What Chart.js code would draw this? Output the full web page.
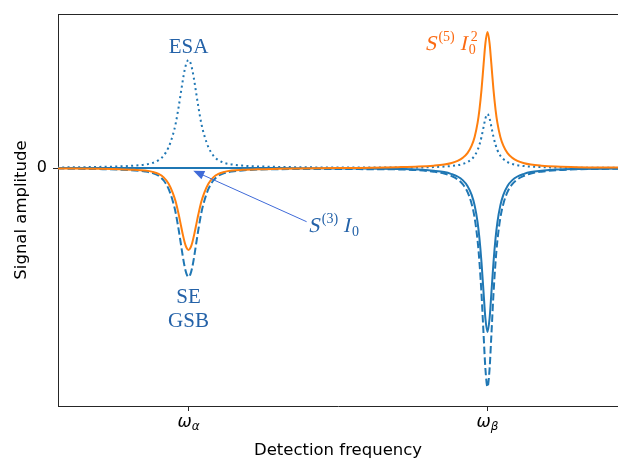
<!DOCTYPE html>
<html>
<head>
<meta charset="utf-8">
<script src="https://cdn.jsdelivr.net/npm/chart.js@4"></script>
<style>
  body { margin: 0; background: #fff; }
  #wrap { width: 618px; height: 459px; }
</style>
</head>
<body>
<div id="wrap"><canvas id="chart" width="618" height="459"></canvas></div>
<script>
// detection frequency samples (w_alpha = 1, w_beta = 2), denser near the peaks
const freq = [
  0.56, 0.70, 0.77, 0.82, 0.855, 0.88, 0.90, 0.917, 0.933, 0.947, 0.957, 0.967, 0.973, 0.98, 0.987, 0.993,
  1.00,
  1.007, 1.013, 1.02, 1.027, 1.033, 1.043, 1.053, 1.067, 1.083, 1.10, 1.12, 1.145, 1.18, 1.23, 1.30, 1.43,
  1.50,
  1.57, 1.70, 1.77, 1.82, 1.855, 1.88, 1.90, 1.917, 1.933, 1.947, 1.957, 1.967, 1.973, 1.98, 1.987, 1.993,
  2.00,
  2.007, 2.013, 2.02, 2.027, 2.033, 2.043, 2.053, 2.067, 2.083, 2.10, 2.12, 2.145, 2.18, 2.23, 2.30, 2.44
];

// ESA (blue dotted)
const esa = [
  0.005, 0.011, 0.016, 0.024, 0.035, 0.051, 0.078, 0.124, 0.205, 0.324, 0.443, 0.610, 0.724, 0.859, 0.977, 1.048,
  1.080,
  1.048, 0.977, 0.859, 0.724, 0.610, 0.443, 0.324, 0.205, 0.124, 0.078, 0.051, 0.035, 0.024, 0.016, 0.011, 0.006,
  0.005,
  0.004, 0.004, 0.005, 0.009, 0.014, 0.020, 0.028, 0.040, 0.059, 0.089, 0.123, 0.180, 0.231, 0.311, 0.412, 0.495,
  0.540,
  0.495, 0.412, 0.311, 0.231, 0.180, 0.123, 0.089, 0.059, 0.040, 0.028, 0.020, 0.014, 0.009, 0.005, 0.003, 0.002
];

// SE + GSB (blue dashed)
const seGsb = [
  -0.005, -0.011, -0.016, -0.024, -0.035, -0.051, -0.078, -0.125, -0.207, -0.327, -0.447, -0.616, -0.730, -0.867, -0.986, -1.057,
  -1.090,
  -1.057, -0.986, -0.867, -0.730, -0.616, -0.447, -0.327, -0.207, -0.125, -0.078, -0.051, -0.035, -0.024, -0.016, -0.012, -0.009,
  -0.009,
  -0.011, -0.014, -0.022, -0.037, -0.055, -0.081, -0.114, -0.162, -0.239, -0.359, -0.499, -0.729, -0.937, -1.261, -1.671, -2.008,
  -2.190,
  -2.008, -1.671, -1.261, -0.937, -0.729, -0.499, -0.359, -0.239, -0.162, -0.114, -0.081, -0.055, -0.037, -0.022, -0.013, -0.007
];

// S(3) I0 (blue solid)
const s3 = [
  0, 0, 0, 0, 0, 0, 0, 0, 0, 0, 0, 0, 0, 0, 0, 0,
  0,
  0, 0, 0, 0, 0, 0, 0, 0, 0, 0, 0, 0, 0, 0, 0, -0.003,
  -0.004,
  -0.005, -0.010, -0.016, -0.028, -0.041, -0.061, -0.085, -0.121, -0.179, -0.269, -0.374, -0.546, -0.702, -0.945, -1.251, -1.504,
  -1.640,
  -1.504, -1.251, -0.945, -0.702, -0.546, -0.374, -0.269, -0.179, -0.121, -0.085, -0.061, -0.041, -0.028, -0.016, -0.010, -0.005
];

// S(5) I0^2 (orange solid)
const s5 = [
  -0.004, -0.008, -0.012, -0.018, -0.026, -0.039, -0.059, -0.094, -0.156, -0.246, -0.336, -0.463, -0.549, -0.652, -0.742, -0.795,
  -0.820,
  -0.795, -0.742, -0.652, -0.549, -0.463, -0.336, -0.246, -0.156, -0.094, -0.059, -0.039, -0.026, -0.018, -0.012, -0.008, -0.002,
  0.000,
  0.001, 0.008, 0.014, 0.023, 0.034, 0.050, 0.071, 0.101, 0.148, 0.223, 0.310, 0.453, 0.582, 0.783, 1.038, 1.247,
  1.360,
  1.247, 1.038, 0.783, 0.582, 0.453, 0.310, 0.223, 0.148, 0.101, 0.071, 0.050, 0.034, 0.023, 0.014, 0.008, 0.004
];

const xTicks = [1, 2];
const xTickNames = ['α', 'β'];
const yTicks = [0];

const BLUE = '#1f77b4';
const ORANGE = '#ff7f0e';
const TEXT_BLUE = '#2462a8';
const TEXT_ORANGE = '#fb6a12';
const AXIS = '#262626';

const pts = arr => freq.map((f, i) => ({ x: f, y: arr[i] }));

// draws math pieces left to right from x: [text, kind], kind 'i' italic, 'r' roman, 'sup', 'sub', 'subsup'
function drawMath(ctx, pieces, x, y, size, color) {
  const small = Math.round(size * 0.68);
  const serif = s => s + 'px "Liberation Serif", "DejaVu Serif", serif';
  ctx.fillStyle = color;
  ctx.textAlign = 'left';
  ctx.textBaseline = 'alphabetic';
  let cx = x;
  pieces.forEach(([t, kind]) => {
    if (kind === 'subsup') {
      ctx.font = serif(small);
      ctx.fillText(t[0], cx, y + 4);
      ctx.fillText(t[1], cx + 2, y - 9);
      cx += Math.max(ctx.measureText(t[0]).width, ctx.measureText(t[1]).width) + 1;
    } else if (kind === 'sup' || kind === 'sub') {
      ctx.font = serif(small);
      ctx.fillText(t, cx, kind === 'sup' ? y - 9 : y + 4);
      cx += ctx.measureText(t).width + (kind === 'sup' ? 5 : 1);
    } else if (kind === 'i') {
      ctx.font = serif(size);
      ctx.save();
      ctx.translate(cx, y);
      ctx.transform(1, 0, -0.22, 1, 0, 0);
      ctx.fillText(t, 0, 0);
      ctx.restore();
      cx += ctx.measureText(t).width + 2;
    } else {
      ctx.font = serif(size);
      ctx.fillText(t, cx, y);
      cx += ctx.measureText(t).width;
    }
  });
}

const decorations = {
  id: 'decorations',
  afterDraw(chart) {
    const { ctx, chartArea, scales: { x, y } } = chart;
    ctx.save();

    // top spine
    ctx.strokeStyle = AXIS;
    ctx.lineWidth = 1;
    ctx.beginPath();
    ctx.moveTo(chartArea.left, chartArea.top + 0.5);
    ctx.lineTo(chartArea.right, chartArea.top + 0.5);
    ctx.stroke();

    // tick labels
    ctx.fillStyle = '#000';
    xTicks.forEach((v, i) => {
      const px = x.getPixelForValue(v);
      ctx.font = 'italic 17px "DejaVu Sans"';
      ctx.textAlign = 'left';
      ctx.textBaseline = 'alphabetic';
      const ww = ctx.measureText('ω').width;
      ctx.font = 'italic 12px "DejaVu Sans"';
      const sw = ctx.measureText(xTickNames[i]).width;
      const sx = px - (ww + sw) / 2;
      ctx.font = 'italic 17px "DejaVu Sans"';
      ctx.fillText('ω', sx, 427);
      ctx.font = 'italic 12px "DejaVu Sans"';
      ctx.fillText(xTickNames[i], sx + ww, 430);
    });
    ctx.font = '16px "DejaVu Sans"';
    ctx.textAlign = 'right';
    ctx.textBaseline = 'middle';
    yTicks.forEach(v => ctx.fillText(String(v), 47, y.getPixelForValue(v)));

    // axis titles
    ctx.textAlign = 'center';
    ctx.textBaseline = 'alphabetic';
    ctx.font = '16.5px "DejaVu Sans"';
    ctx.fillText('Detection frequency', (chartArea.left + chartArea.right) / 2, 455);
    ctx.save();
    ctx.translate(26, (chartArea.top + chartArea.bottom) / 2);
    ctx.rotate(-Math.PI / 2);
    ctx.fillText('Signal amplitude', 0, 0);
    ctx.restore();

    // annotations
    ctx.font = '21px "Liberation Serif", serif';
    ctx.fillStyle = TEXT_BLUE;
    ctx.textAlign = 'center';
    ctx.fillText('ESA', x.getPixelForValue(1), y.getPixelForValue(1.15));
    ctx.fillText('SE', x.getPixelForValue(1), y.getPixelForValue(-1.35));
    ctx.fillText('GSB', x.getPixelForValue(1), y.getPixelForValue(-1.59));

    drawMath(ctx, [['S', 'i'], ['(5)', 'sup'], ['I', 'i'], [['0', '2'], 'subsup']],
      x.getPixelForValue(1.79), y.getPixelForValue(1.18), 21, TEXT_ORANGE);
    drawMath(ctx, [['S', 'i'], ['(3)', 'sup'], ['I', 'i'], ['0', 'sub']],
      x.getPixelForValue(1.40), y.getPixelForValue(-0.64), 21, TEXT_BLUE);

    // arrow to the flat S(3) line
    const tx = x.getPixelForValue(1.016), ty = y.getPixelForValue(-0.027);
    const fx = x.getPixelForValue(1.395), fy = y.getPixelForValue(-0.537);
    const ang = Math.atan2(ty - fy, tx - fx);
    ctx.strokeStyle = '#3f6ad8';
    ctx.fillStyle = '#3f6ad8';
    ctx.lineWidth = 1;
    ctx.beginPath();
    ctx.moveTo(fx, fy);
    ctx.lineTo(tx - 9 * Math.cos(ang), ty - 9 * Math.sin(ang));
    ctx.stroke();
    ctx.beginPath();
    ctx.moveTo(tx, ty);
    ctx.lineTo(tx - 11 * Math.cos(ang) + 4.5 * Math.sin(ang), ty - 11 * Math.sin(ang) - 4.5 * Math.cos(ang));
    ctx.lineTo(tx - 11 * Math.cos(ang) - 4.5 * Math.sin(ang), ty - 11 * Math.sin(ang) + 4.5 * Math.cos(ang));
    ctx.closePath();
    ctx.fill();

    ctx.restore();
  }
};

const line = (data, color, dash, order) => ({
  data: pts(data),
  borderColor: color,
  borderWidth: 2,
  borderDash: dash,
  pointRadius: 0,
  fill: false,
  cubicInterpolationMode: 'monotone',
  order: order,
});

new Chart(document.getElementById('chart'), {
  type: 'line',
  data: {
    datasets: [
      line(s5, ORANGE, [], 0),
      line(s3, BLUE, [], 1),
      line(seGsb, BLUE, [7.4, 3.2], 2),
      line(esa, BLUE, [2, 3.3], 3),
    ],
  },
  options: {
    responsive: false,
    animation: false,
    layout: { padding: { top: 14, right: 0, left: 0, bottom: 0 } },
    plugins: { legend: { display: false }, tooltip: { enabled: false } },
    scales: {
      x: {
        type: 'linear',
        min: 0.5635,
        max: 2.4365,
        afterBuildTicks: s => { s.ticks = xTicks.map(v => ({ value: v })); },
        afterFit: s => { s.height = 53; },
        ticks: { display: false },
        grid: { drawOnChartArea: false, drawTicks: true, tickLength: 5, color: AXIS },
        border: { color: AXIS, width: 1 },
      },
      y: {
        min: -2.38,
        max: 1.54,
        afterBuildTicks: s => { s.ticks = yTicks.map(v => ({ value: v })); },
        afterFit: s => { s.width = 58; },
        ticks: { display: false },
        grid: { drawOnChartArea: false, drawTicks: true, tickLength: 5, color: AXIS },
        border: { color: AXIS, width: 1 },
      },
    },
  },
  plugins: [decorations],
});
</script>
</body>
</html>
